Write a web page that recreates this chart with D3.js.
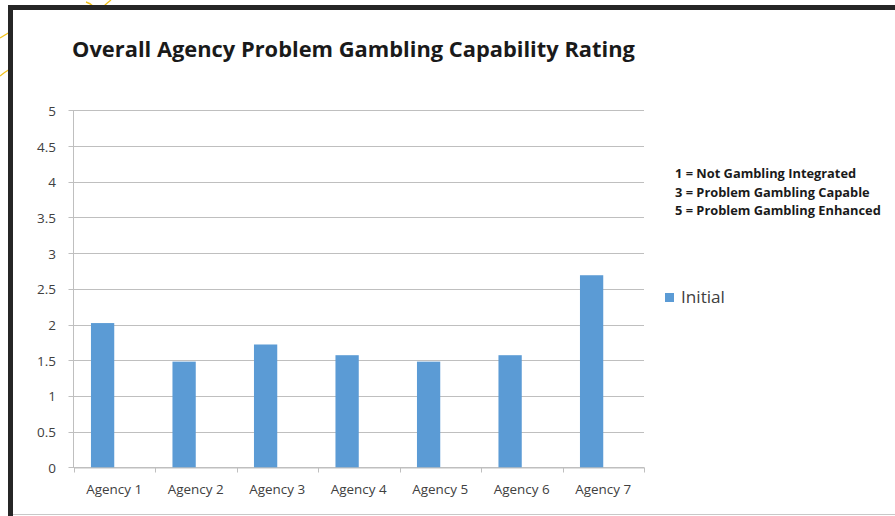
<!DOCTYPE html>
<html><head><meta charset="utf-8">
<script src="https://cdn.jsdelivr.net/npm/d3@7"></script>
<style>body{margin:0;background:#fff;}svg{display:block;}</style>
</head><body>
<svg id="c" width="895" height="516"></svg>
<script>
const categories = ["Agency 1","Agency 2","Agency 3","Agency 4","Agency 5","Agency 6","Agency 7"];
const initialValues = [2.02, 1.48, 1.72, 1.57, 1.48, 1.57, 2.69];
const yTicks = [0, 0.5, 1, 1.5, 2, 2.5, 3, 3.5, 4, 4.5, 5];
const yTickLabels = ["0","0.5","1","1.5","2","2.5","3","3.5","4","4.5","5"];
const seriesName = "Initial";
const titleText = "Overall Agency Problem Gambling Capability Rating";
const noteLines = ["1 = Not Gambling Integrated","3 = Problem Gambling Capable","5 = Problem Gambling Enhanced"];

const svg = d3.select("#c");
const font = "'Open Sans', 'Noto Sans', sans-serif";

// fit a text selection's font size so that a reference node reaches a target width
function fit(sel, refNode, target, base) {
  const w = refNode.getComputedTextLength();
  sel.attr("font-size", base * target / w);
}

// decorative background curves (yellow) at top-left
const deco = svg.append("g").attr("fill","none").attr("stroke","#f2c21b").attr("stroke-width",1.3);
deco.append("path").attr("d","M0,38 Q5,35 10,32");
deco.append("path").attr("d","M0,76 Q5,72 10,69");
deco.append("path").attr("d","M86,2 Q90,3 94,7");
deco.append("path").attr("d","M103,7 Q107,3 111,0");

// frame
svg.append("rect").attr("x",8).attr("y",5).attr("width",887).attr("height",5).attr("fill","#262626");
svg.append("rect").attr("x",8).attr("y",5).attr("width",5).attr("height",511).attr("fill","#262626");
svg.append("line").attr("x1",13).attr("x2",895).attr("y1",514.5).attr("y2",514.5).attr("stroke","#c8c8c8").attr("stroke-width",1);

const x0 = 73.5, x1 = 644, y0 = 467.3, y1 = 110.3;
const x = d3.scaleBand().domain(categories).range([x0, x1]).paddingInner(0).paddingOuter(0);
const y = d3.scaleLinear().domain([0, 5]).range([y0, y1]);

// gridlines
svg.append("g").selectAll("line").data(yTicks).join("line")
  .attr("x1", x0 - 5).attr("x2", x1)
  .attr("y1", d => Math.round(y(d)) + 0.5).attr("y2", d => Math.round(y(d)) + 0.5)
  .attr("stroke", "#bfbfbf").attr("stroke-width", 1);

// y axis line
svg.append("line").attr("x1", x0).attr("x2", x0).attr("y1", y1).attr("y2", y0)
  .attr("stroke", "#bfbfbf").attr("stroke-width", 1);

// x axis
const xAxis = d3.axisBottom(x).tickSize(5).tickSizeOuter(0).tickFormat(() => "");
const xg = svg.append("g").attr("transform", `translate(0,${Math.round(y0)+0.5})`).call(xAxis);
xg.select(".domain").attr("stroke", "#bfbfbf");
xg.selectAll(".tick").remove();
const boundaries = categories.map(c => x(c)).concat([x1]);
xg.selectAll("line.b").data(boundaries).join("line").attr("class","b")
  .attr("x1", d => Math.round(d)+0.5).attr("x2", d => Math.round(d)+0.5).attr("y1", 0).attr("y2", 5)
  .attr("stroke", "#bfbfbf");

// x labels
const xl = svg.append("g").selectAll("text").data(categories).join("text")
  .attr("x", d => x(d) + x.bandwidth()/2).attr("y", 494)
  .attr("text-anchor", "middle").attr("font-family", font).attr("font-size", 12)
  .attr("fill", "#404040").text(d => d);
fit(xl, xl.nodes()[0], 56, 12);

// y labels
const yl = svg.append("g").selectAll("text").data(yTicks).join("text")
  .attr("x", 56).attr("y", d => y(d) + 5.5)
  .attr("text-anchor", "end").attr("font-family", font).attr("font-size", 14)
  .attr("fill", "#404040").text((d, i) => yTickLabels[i]);
fit(yl, yl.nodes()[9], 19, 14);

// bars (clustered layout with an empty second slot, gap width 150%)
const bw = x.bandwidth() / 3.5;
svg.append("g").selectAll("rect").data(categories).join("rect")
  .attr("x", d => x(d) + 0.75 * bw).attr("width", bw)
  .attr("y", (d, i) => y(initialValues[i])).attr("height", (d, i) => y(0) - y(initialValues[i]))
  .attr("fill", "#5b9bd5");

// title
const t = svg.append("text").attr("x", 72).attr("y", 57).attr("font-family", font)
  .attr("font-weight", "bold").attr("font-size", 20).attr("fill", "#1a1a1a").text(titleText);
fit(t, t.node(), 563, 20);

// notes
const nt = svg.append("g").selectAll("text").data(noteLines).join("text")
  .attr("x", 675).attr("y", (d, i) => 178 + i * 18.5)
  .attr("font-family", font).attr("font-weight", "bold").attr("font-size", 12)
  .attr("fill", "#1a1a1a").text(d => d);
fit(nt, nt.nodes()[2], 206, 12);

// legend
svg.append("rect").attr("x", 665).attr("y", 293).attr("width", 9).attr("height", 9).attr("fill", "#5b9bd5");
const lg = svg.append("text").attr("x", 681).attr("y", 303).attr("font-family", font).attr("font-size", 15)
  .attr("fill", "#404040").text(seriesName);
fit(lg, lg.node(), 44, 15);
</script>
</body></html>
